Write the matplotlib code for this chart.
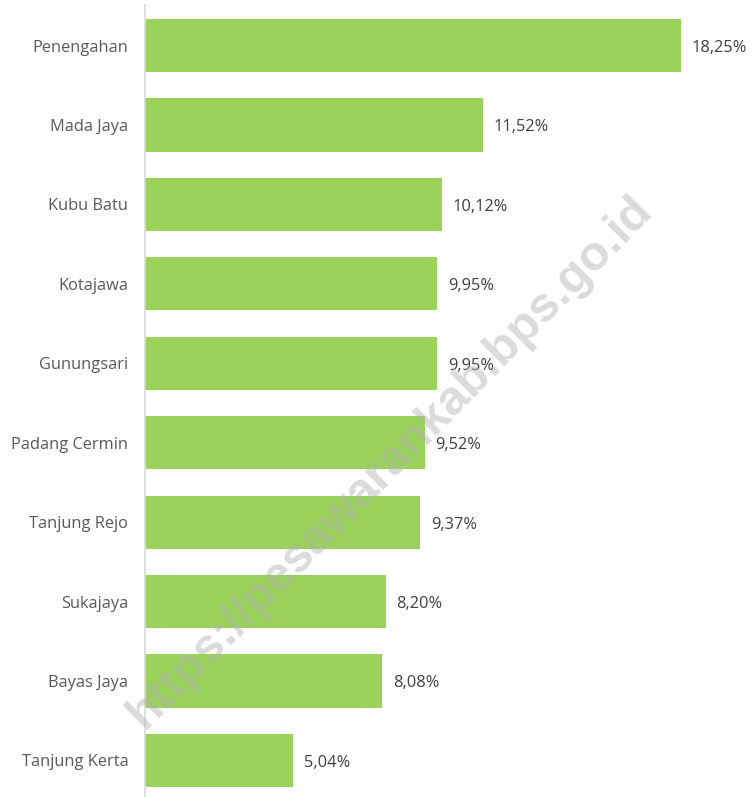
import matplotlib.pyplot as plt

# data
desa = ['Penengahan', 'Mada Jaya', 'Kubu Batu', 'Kotajawa', 'Gunungsari',
        'Padang Cermin', 'Tanjung Rejo', 'Sukajaya', 'Bayas Jaya', 'Tanjung Kerta']
persen = [18.25, 11.52, 10.12, 9.95, 9.95, 9.52, 9.37, 8.20, 8.08, 5.04]

plt.rcParams['font.family'] = ['Open Sans', 'DejaVu Sans']

fig = plt.figure(figsize=(7.53, 7.97), dpi=100)
ax = fig.add_axes([145 / 753, 0, 608 / 753, 792 / 797])

pos = list(range(len(desa)))
ax.barh(pos, persen, height=0.67, color='#9BD35A')

for p, v in zip(pos, persen):
    ax.text(v + 0.36, p + 0.03, f'{v:.2f}%'.replace('.', ','), va='center', ha='left',
            fontsize=11.8, color='#404040')

ax.set_yticks(pos)
ax.set_yticklabels(desa, fontsize=11.8, color='#595959')
ax.tick_params(axis='y', length=0, pad=12)
ax.set_xticks([])
ax.set_xlim(0, 20.7)
ax.set_ylim(9.46, -0.51)

for s in ['top', 'right', 'bottom']:
    ax.spines[s].set_visible(False)
ax.spines['left'].set_color('#d9d9d9')
ax.spines['left'].set_linewidth(1.2)

# watermark
fig.text(390 / 753, 1 - 462 / 797, 'https://pesawarankab.bps.go.id', rotation=45.5,
         ha='center', va='center', fontsize=35, fontweight='bold',
         family='Liberation Sans', color='#b0b0b0', alpha=0.45)

fig.savefig('out.png', dpi=100)
